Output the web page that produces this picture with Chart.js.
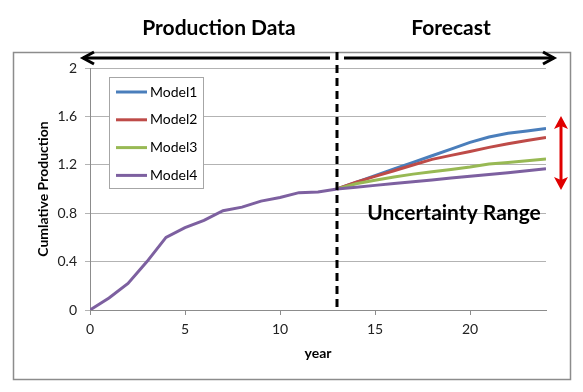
<!DOCTYPE html>
<html>
<head>
<meta charset="utf-8">
<script src="https://cdn.jsdelivr.net/npm/chart.js@4.4.1/dist/chart.umd.min.js"></script>
<style>
  html, body { margin: 0; padding: 0; background: #fff; }
  #wrap { width: 583px; height: 392px; position: relative; }
  canvas { display: block; }
</style>
</head>
<body>
<div id="wrap"><canvas id="c" width="583" height="392"></canvas></div>
<script>
// ---- data ----
const years = [0,1,2,3,4,5,6,7,8,9,10,11,12,13,14,15,16,17,18,19,20,21,22,23,24];
const forecastStartYear = 13;
// shared production history, years 0..13
const history = [0, 0.10, 0.22, 0.40, 0.60, 0.68, 0.74, 0.82, 0.85, 0.90, 0.93, 0.97, 0.975, 1.00];
// forecasts, years 14..24
const model1Forecast = [1.055, 1.11, 1.165, 1.22, 1.275, 1.33, 1.385, 1.43, 1.46, 1.48, 1.50];
const model2Forecast = [1.057, 1.104, 1.151, 1.198, 1.245, 1.278, 1.31, 1.344, 1.374, 1.40, 1.425];
const model3Forecast = [1.043, 1.073, 1.10, 1.123, 1.142, 1.162, 1.181, 1.206, 1.219, 1.233, 1.247];
const model4Forecast = [1.015, 1.03, 1.045, 1.06, 1.075, 1.09, 1.105, 1.12, 1.135, 1.15, 1.167];
const seriesNames = ['Model1', 'Model2', 'Model3', 'Model4'];
const seriesColors = ['#4a7ebb', '#be4b48', '#98b954', '#7d60a0'];
const yTicks = [0, 0.4, 0.8, 1.2, 1.6, 2];
const xTicks = [0, 5, 10, 15, 20];
const headerTexts = ['Production Data', 'Forecast'];
const rangeText = 'Uncertainty Range';
const yTitle = 'Cumlative Production';
const xTitle = 'year';

// build points
function pts(forecast, withHistory) {
  const out = [];
  years.forEach((yr, i) => {
    let v = null;
    if (yr < forecastStartYear) v = withHistory ? history[i] : null;
    else if (yr === forecastStartYear) v = history[i];
    else v = forecast[yr - forecastStartYear - 1];
    if (v !== null) out.push({x: yr, y: v});
  });
  return out;
}
const forecasts = [model1Forecast, model2Forecast, model3Forecast, model4Forecast];
const datasets = seriesNames.map((name, k) => ({
  label: name,
  data: pts(forecasts[k], k === 3),
  borderColor: seriesColors[k],
  backgroundColor: seriesColors[k],
  borderWidth: 3,
  pointRadius: 0,
  tension: 0,
  fill: false,
  order: k === 3 ? 0 : 4 - k
}));

const FONT = 'Lato';

const overlay = {
  id: 'overlay',
  beforeDraw(chart) {
    const ctx = chart.ctx;
    ctx.save();
    ctx.fillStyle = '#fff';
    ctx.fillRect(0, 0, chart.width, chart.height);
    ctx.restore();
  },
  afterDraw(chart) {
    const ctx = chart.ctx;
    const xs = chart.scales.x;
    const area = chart.chartArea;
    ctx.save();
    // outer frame
    ctx.strokeStyle = '#8c8c8c';
    ctx.lineWidth = 1.5;
    ctx.strokeRect(13.5, 52.5, 557, 327);

    // dashed divider
    const xd = xs.getPixelForValue(forecastStartYear);
    ctx.strokeStyle = '#000';
    ctx.lineWidth = 3;
    ctx.setLineDash([8, 5]);
    ctx.beginPath();
    ctx.moveTo(xd, 52);
    ctx.lineTo(xd, area.bottom);
    ctx.stroke();
    ctx.setLineDash([]);

    // horizontal arrows
    const ay = 58;
    function hArrow(x1, x2, tipLeft, tipRight) {
      ctx.beginPath();
      ctx.moveTo(x1, ay); ctx.lineTo(x2, ay);
      ctx.stroke();
      ctx.lineJoin = 'miter';
      if (tipLeft) {
        ctx.beginPath();
        ctx.moveTo(x1 + 11, ay - 6); ctx.lineTo(x1, ay); ctx.lineTo(x1 + 11, ay + 6);
        ctx.stroke();
      }
      if (tipRight) {
        ctx.beginPath();
        ctx.moveTo(x2 - 11, ay - 6); ctx.lineTo(x2, ay); ctx.lineTo(x2 - 11, ay + 6);
        ctx.stroke();
      }
    }
    ctx.strokeStyle = '#000';
    ctx.lineWidth = 3;
    hArrow(83, xd - 7, true, false);
    hArrow(xd + 7, 554, false, true);

    // header texts
    ctx.fillStyle = '#000';
    ctx.font = 'bold 21px ' + FONT;
    ctx.textAlign = 'center';
    ctx.textBaseline = 'middle';
    ctx.fillText(headerTexts[0], 219, 28);
    ctx.fillText(headerTexts[1], 451, 28);

    // uncertainty text
    ctx.font = 'bold 21px ' + FONT;
    ctx.fillText(rangeText, 454, 213);

    // red double arrow
    const rx = 561, rt = 116, rb = 190;
    ctx.strokeStyle = '#e00000';
    ctx.fillStyle = '#e00000';
    ctx.lineWidth = 3;
    ctx.beginPath();
    ctx.moveTo(rx, rt + 8); ctx.lineTo(rx, rb - 8);
    ctx.stroke();
    ctx.beginPath();
    ctx.moveTo(rx, rt); ctx.lineTo(rx - 7, rt + 13); ctx.lineTo(rx, rt + 10); ctx.lineTo(rx + 7, rt + 13); ctx.closePath();
    ctx.fill();
    ctx.beginPath();
    ctx.moveTo(rx, rb); ctx.lineTo(rx - 7, rb - 13); ctx.lineTo(rx, rb - 10); ctx.lineTo(rx + 7, rb - 13); ctx.closePath();
    ctx.fill();

    // legend box
    const lx = 109, ly = 77, lw = 94, lh = 111;
    ctx.fillStyle = '#fff';
    ctx.fillRect(lx, ly, lw, lh);
    ctx.strokeStyle = '#a6a6a6';
    ctx.lineWidth = 1;
    ctx.strokeRect(lx + 0.5, ly + 0.5, lw, lh);
    ctx.font = '14px ' + FONT;
    ctx.textAlign = 'left';
    ctx.textBaseline = 'middle';
    chart.data.datasets.forEach((ds, i) => {
      const yy = 92 + i * 27.8;
      ctx.strokeStyle = ds.borderColor;
      ctx.lineWidth = 3;
      ctx.beginPath();
      ctx.moveTo(116, yy); ctx.lineTo(147, yy);
      ctx.stroke();
      ctx.fillStyle = '#000';
      ctx.fillText(ds.label, 150, yy);
    });
    ctx.restore();
  }
};

new Chart(document.getElementById('c'), {
  type: 'line',
  data: { datasets },
  options: {
    responsive: false,
    devicePixelRatio: 1,
    animation: false,
    layout: { padding: { left: 35, top: 68, right: 37, bottom: 27 } },
    plugins: { legend: { display: false }, tooltip: { enabled: false } },
    scales: {
      x: {
        type: 'linear',
        min: 0, max: 24,
        afterFit(s) { s.height = 55; },
        afterBuildTicks(s) { s.ticks = xTicks.map(v => ({value: v})); },
        grid: { drawOnChartArea: false, drawTicks: true, tickLength: 5, color: '#8c8c8c', lineWidth: 1 },
        border: { color: '#8c8c8c', width: 1 },
        ticks: { font: { family: FONT, size: 14 }, color: '#222', padding: 6, maxRotation: 0 },
        title: { display: true, text: xTitle, font: { family: FONT, size: 14, weight: 'bold' }, color: '#000', padding: { top: 0, bottom: 3 } }
      },
      y: {
        min: 0, max: 2,
        afterFit(s) { s.width = 55; },
        afterBuildTicks(s) { s.ticks = yTicks.map(v => ({value: v})); },
        grid: { color: '#b3b3b3', lineWidth: 1, tickLength: 5 },
        border: { color: '#8c8c8c', width: 1 },
        ticks: { font: { family: FONT, size: 14 }, color: '#222', padding: 8, callback: v => String(v) },
        title: { display: true, text: yTitle, font: { family: FONT, size: 14, weight: 'bold' }, color: '#000', padding: { top: 0, bottom: 0 } }
      }
    }
  },
  plugins: [overlay]
});
</script>
</body>
</html>
